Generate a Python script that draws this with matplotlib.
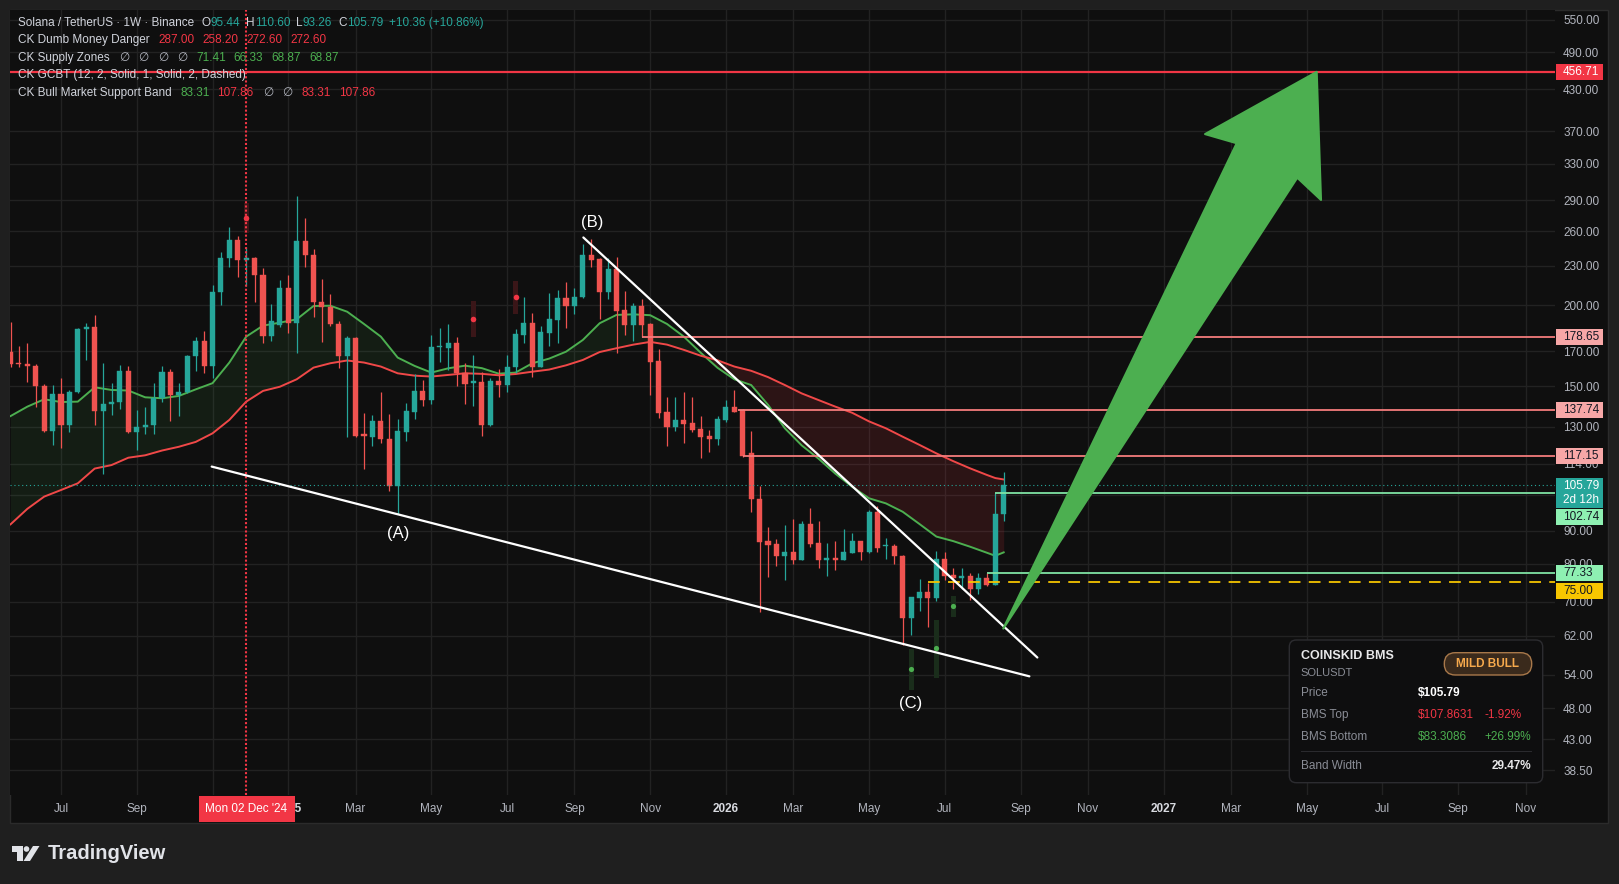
import matplotlib
matplotlib.use("Agg")
import matplotlib.pyplot as plt
import numpy as np
import pandas as pd
from matplotlib.patches import Rectangle, FancyBboxPatch, Polygon, Circle
from matplotlib.transforms import Affine2D
from matplotlib.ticker import NullLocator

plt.rcParams['font.family'] = ['Liberation Sans', 'DejaVu Sans']

# ---------------- data ----------------
# weekly SOL/USDT bars, first bar Mon 20 May 2024
first_bar = "2024-05-20"
opens = [
    169.4, 162.6, 162.1, 161.5, 150.4, 128.0, 146.0, 130.8, 147.1, 183.8,
    185.1, 137.6, 140.9, 141.9, 158.4, 127.7, 129.9, 130.8, 143.8, 157.9,
    145.5, 147.1, 167.1, 176.1, 161.5, 209.6, 236.4, 251.9, 235.0, 236.4,
    222.9, 179.5, 186.5, 212.5, 187.5, 251.0, 239.2, 202.4, 199.0, 187.1,
    167.3, 178.1, 126.2, 125.5, 132.7, 124.5, 105.5, 127.7, 137.1, 147.6,
    142.9, 172.3, 172.1, 174.9, 157.1, 152.0, 152.3, 131.0, 152.9, 150.8,
    160.4, 180.0, 187.6, 160.9, 181.5, 190.0, 204.9, 199.7, 205.6, 238.9,
    235.3, 209.8, 227.4, 196.6, 186.4, 199.5, 187.0, 164.1, 137.0, 130.1,
    133.2, 131.6, 129.0, 125.6, 124.5, 133.1, 139.2, 137.74, 118.3, 100.5,
    86.7, 85.8, 82.3, 83.4, 81.1, 92.1, 86.0, 81.1, 81.7, 81.1,
    83.2, 86.7, 83.4, 96.1, 85.1, 85.3, 82.3, 66.1, 70.9, 72.4,
    70.9, 81.4, 77.0, 76.1, 76.6, 73.2, 76.1, 74.2, 95.44]
highs = [
    188.7, 173.1, 174.9, 162.4, 151.3, 150.7, 154.6, 148.1, 184.5, 187.5,
    193.2, 163.0, 151.8, 161.9, 161.3, 138.0, 139.4, 151.8, 161.3, 159.6,
    151.8, 167.7, 178.7, 182.5, 214.6, 241.4, 263.8, 255.5, 246.0, 236.9,
    228.2, 200.9, 218.6, 222.6, 294.4, 272.4, 244.0, 219.4, 208.1, 189.1,
    179.3, 178.5, 136.4, 135.5, 147.1, 135.9, 133.6, 141.4, 156.8, 153.4,
    179.9, 184.5, 187.1, 178.7, 163.0, 167.7, 158.1, 154.3, 159.5, 167.6,
    183.6, 205.6, 194.3, 185.8, 208.8, 211.1, 216.9, 212.3, 248.1, 252.5,
    236.1, 236.1, 237.0, 210.3, 201.4, 204.4, 187.5, 171.3, 144.5, 144.5,
    146.8, 144.5, 135.0, 128.5, 135.0, 142.9, 148.1, 138.5, 128.0, 105.4,
    91.1, 87.3, 91.8, 93.7, 93.1, 97.5, 93.1, 86.2, 86.7, 90.5,
    89.2, 86.8, 96.8, 98.2, 87.7, 85.8, 82.6, 71.2, 75.7, 74.8,
    83.7, 83.4, 78.8, 78.8, 77.5, 77.5, 77.33, 102.74, 110.60]
lows = [
    160.9, 160.9, 152.5, 139.6, 127.7, 121.9, 120.7, 127.7, 146.4, 164.7,
    130.8, 109.8, 135.5, 138.4, 127.3, 119.7, 126.7, 126.7, 142.1, 132.9,
    135.2, 146.4, 158.6, 157.5, 154.7, 200.1, 229.3, 221.3, 214.1, 202.4,
    175.1, 176.4, 185.4, 181.4, 168.6, 229.3, 192.0, 175.7, 186.0, 160.3,
    125.5, 125.3, 111.8, 121.6, 122.6, 103.7, 95.3, 123.4, 133.6, 140.1,
    140.9, 163.7, 159.0, 150.4, 141.1, 139.9, 126.0, 130.5, 144.7, 147.1,
    157.1, 175.1, 155.3, 160.5, 173.3, 175.1, 184.7, 194.1, 205.0, 229.2,
    190.6, 204.2, 168.6, 180.0, 176.2, 178.9, 145.5, 134.3, 121.6, 128.1,
    122.9, 127.6, 116.5, 119.0, 121.9, 132.4, 136.9, 116.7, 96.2, 67.5,
    76.4, 79.4, 75.5, 80.0, 81.0, 85.0, 78.7, 76.7, 78.3, 81.0,
    83.1, 81.1, 83.2, 83.4, 81.5, 80.0, 60.0, 62.2, 67.7, 64.0,
    70.1, 75.5, 73.2, 73.2, 70.4, 72.0, 74.0, 74.2, 93.26]
closes = [
    162.6, 162.1, 161.5, 150.4, 128.0, 146.0, 130.8, 147.1, 183.8, 185.1,
    137.6, 140.9, 141.9, 158.4, 127.7, 129.9, 130.8, 143.8, 157.9, 145.5,
    147.1, 167.1, 176.1, 161.5, 209.6, 236.4, 251.9, 235.0, 236.4, 222.9,
    179.5, 189.1, 212.5, 187.5, 251.0, 239.2, 202.4, 199.0, 187.1, 167.3,
    178.1, 126.0, 126.0, 132.7, 124.3, 105.5, 128.0, 137.5, 147.6, 142.9,
    172.5, 172.7, 174.9, 157.1, 151.5, 152.3, 131.0, 152.9, 150.8, 160.7,
    180.6, 187.6, 160.9, 181.7, 190.5, 204.9, 199.7, 205.9, 238.9, 234.6,
    209.8, 227.4, 196.2, 186.4, 199.5, 186.4, 163.7, 136.7, 130.1, 133.2,
    131.3, 128.5, 125.4, 124.5, 133.7, 139.2, 137.1, 117.15, 100.5, 86.5,
    85.6, 82.3, 83.4, 81.1, 92.1, 85.8, 81.1, 81.7, 81.1, 83.4,
    86.7, 83.4, 96.1, 84.7, 85.3, 82.1, 66.1, 71.1, 72.4, 70.9,
    81.4, 76.6, 76.1, 76.6, 73.2, 76.1, 74.2, 95.44, 105.79]

# CK Bull Market Support Band (week index from 1 Jul 2024)
band_weeks = [-6, -4, -2, 0, 2, 4, 6, 8, 10, 12, 14, 16, 18, 20, 22, 24, 26, 28,
              30, 32, 34, 36, 38, 40, 42, 44, 46, 48, 50, 52, 54, 56, 58, 60, 62,
              64, 66, 68, 70, 72, 74, 76, 78, 80, 82, 84, 86, 88, 90, 92, 94, 96,
              98, 100, 102, 104, 106, 108, 110, 111, 112]
band_fast = [135.0, 139.6, 143.3, 141.9, 142.1, 149.5, 148.1, 147.8, 144.3, 143.8,
             145.0, 148.4, 151.7, 163.2, 178.9, 186.0, 188.0, 190.2, 199.4, 199.6,
             195.4, 187.1, 178.9, 166.1, 161.3, 157.5, 159.9, 161.4, 160.0, 156.9,
             157.5, 162.8, 165.5, 169.6, 176.8, 187.6, 193.2, 193.6, 193.0, 187.1,
             178.9, 169.0, 160.2, 153.8, 150.7, 140.5, 129.3, 121.7, 116.1, 110.1,
             105.1, 100.9, 99.1, 96.2, 92.1, 88.1, 86.7, 85.0, 83.2, 82.3, 83.31]
band_slow = [92.0, 97.2, 101.5, 103.9, 106.4, 112.1, 113.5, 116.5, 117.5, 119.5,
             121.1, 123.2, 127.0, 133.2, 142.1, 147.6, 149.8, 153.8, 160.3, 162.8,
             164.4, 163.2, 160.9, 157.1, 155.8, 155.3, 156.2, 157.1, 156.8, 156.0,
             156.7, 158.0, 159.2, 161.6, 164.7, 169.4, 171.7, 173.9, 175.6, 173.9,
             170.7, 167.2, 164.5, 160.9, 158.5, 155.0, 150.7, 146.3, 142.9, 139.6,
             136.6, 132.5, 129.3, 125.5, 121.9, 118.3, 115.1, 112.2, 109.6, 108.4, 107.86]

# CK Dumb Money Danger markers
danger_weeks = [22, 49, 54]
danger_top = [287.0, 203.0, 218.1]
danger_bottom = [258.2, 178.6, 193.6]
danger_value = [272.6, 190.3, 205.9]

# CK Supply Zones markers
supply_weeks = [101, 104, 106]
supply_top = [59.1, 65.6, 71.41]
supply_bottom = [51.2, 53.3, 66.33]
supply_value = [55.1, 59.4, 68.87]

# horizontal levels (price, first week)
level_prices = [178.65, 137.74, 117.15, 102.74, 77.33, 75.00]
level_start = [69, 80.4, 81, 111, 110, 103]
target_price = 456.71
last_price = 105.79

# drawings
wedge_low_w, wedge_low_p = [17.9, 115.05], [112.9, 53.7]
wedge_high_w, wedge_high_p = [62.06, 116.0], [254.2, 57.4]
arrow_w = [111.95, 139.68, 135.92, 149.19, 149.70, 146.88]
arrow_p = [63.6, 354.9, 366.6, 457.0, 290.3, 314.1]
wave_labels = ['(A)', '(B)', '(C)']
wave_w = [40.1, 63.1, 100.95]
wave_p = [89.0, 268.2, 48.7]

price_ticks = [550, 490, 430, 370, 330, 290, 260, 230, 200, 170, 150, 130, 114, 102,
               90, 80, 70, 62, 54, 48, 43, 38.5]

# ---------------- style ----------------
BG = '#0f0f0f'
GRID = '#222222'
TEAL = '#26a69a'
RED = '#ef5350'
LRED = '#f23645'
GREEN = '#4caf50'
TXT = '#b2b5be'
NAME = '#d1d4dc'

W, H = 1619, 884
fig = plt.figure(figsize=(W / 100, H / 100), dpi=100, facecolor='#1f1f1f')
pix = Affine2D().scale(1, -1).translate(0, H)  # pixel coords, origin top-left

fig.add_artist(Rectangle((10, 10), 1598, 813, transform=pix, fc=BG, ec='#2b2b2b',
                         lw=1, zorder=-1))

L, R, T, B = 10, 1555, 10, 795
ax = fig.add_axes([L / W, 1 - B / H, (R - L) / W, (B - T) / H])
ax.set_facecolor(BG)
for s in ax.spines.values():
    s.set_visible(False)
ax.set_yscale('log')
ax.set_ylim(35.27, 569.0)
ax.set_xlim(-6.06, 177.5)

# weeks since 1 Jul 2024
origin = pd.Timestamp("2024-07-01")
bar_dates = pd.date_range(first_bar, periods=len(opens), freq="W-MON")
x = np.asarray((bar_dates - origin).days / 7.0)

# axes ticks
ax.yaxis.tick_right()
ax.set_yticks(price_ticks)
ax.set_yticklabels([f"{v:.2f}" for v in price_ticks])
ax.yaxis.set_minor_locator(NullLocator())
ax.tick_params(axis='y', length=0, pad=5.8, labelsize=8.5, labelcolor=TXT)

mondays = pd.date_range(first_bar, "2027-12-31", freq="W-MON")
month_marks = mondays[(mondays.day <= 7) & (mondays.month % 2 == 1)]
mx = np.asarray((month_marks - origin).days / 7.0)
mlabels = [str(d.year) if d.month == 1 else d.strftime('%b') for d in month_marks]
ax.set_xticks(mx)
ax.set_xticklabels(mlabels)
ax.tick_params(axis='x', length=0, pad=5.5, labelsize=8.5, labelcolor=TXT)
for lab, d in zip(ax.get_xticklabels(), month_marks):
    if d.month == 1:
        lab.set_color('#d8dae0')
        lab.set_fontweight('bold')
ax.grid(True, color=GRID, lw=1)
ax.set_axisbelow(True)

# bull market support band
bw = np.array(band_weeks, dtype=float)
bf = np.array(band_fast)
bs = np.array(band_slow)
ax.fill_between(bw, bf, bs, where=bf >= bs, interpolate=True, color=GREEN, alpha=0.09,
                lw=0, zorder=1)
ax.fill_between(bw, bf, bs, where=bf < bs, interpolate=True, color=LRED, alpha=0.13,
                lw=0, zorder=1)
ax.plot(bw, bf, color=GREEN, lw=1.4, zorder=2)
ax.plot(bw, bs, color='#f04848', lw=1.4, zorder=2)

# danger / supply markers
ax.bar(danger_weeks, np.subtract(danger_top, danger_bottom), bottom=danger_bottom,
       width=0.6, color='#3a1618', zorder=2)
ax.scatter(danger_weeks, danger_value, s=16, color=LRED, zorder=3, lw=0)
ax.bar(supply_weeks, np.subtract(supply_top, supply_bottom), bottom=supply_bottom,
       width=0.6, color='#1a2d1b', zorder=2)
ax.scatter(supply_weeks, supply_value, s=14, color=GREEN, zorder=3, lw=0)

# candles
o = np.array(opens)
h = np.array(highs)
lo = np.array(lows)
c = np.array(closes)
cols = np.where(c >= o, TEAL, RED)
ax.vlines(x, lo, h, colors=cols, lw=0.9, zorder=3)
body_low = np.minimum(o, c)
body_h = np.maximum(np.abs(c - o), body_low * 0.006)
ax.bar(x, body_h, bottom=body_low, width=0.6, color=cols, edgecolor=cols, lw=0.3,
       zorder=4)

# levels
ax.axhline(target_price, color=LRED, lw=1.6, zorder=5)
ax.axhline(last_price, color=TEAL, lw=0.8, ls=(0, (1, 2.5)), zorder=5)
lvl_cols = ['#f47c7c', '#f47c7c', '#f47c7c', '#7fe3a4', '#7fe3a4', '#f5c400']
for p, s0, col in zip(level_prices, level_start, lvl_cols):
    ls = (0, (6.5, 4.6)) if col == '#f5c400' else '-'
    ax.hlines(p, s0, 177.5, color=col, lw=1.3, ls=ls, zorder=5)

ax.axvline(22, color=LRED, lw=1.5, ls=(0, (1, 1)), zorder=6)

# wedge and labels
ax.plot(wedge_low_w, wedge_low_p, color='white', lw=1.6, zorder=6,
        solid_capstyle='round')
ax.plot(wedge_high_w, wedge_high_p, color='white', lw=1.6, zorder=6,
        solid_capstyle='round')
for s, w, p in zip(wave_labels, wave_w, wave_p):
    ax.text(w, p, s, color='white', fontsize=12, ha='center', va='center', zorder=7)

ax.add_patch(Polygon(np.column_stack([arrow_w, arrow_p]), closed=True, fc=GREEN,
                     ec=GREEN, lw=1.5, joinstyle='round', zorder=8))


# ---------------- price-axis labels ----------------
def price_y(p):
    return H - ax.transData.transform((0, p))[1]


def axis_box(p, text, bg, fg, nudge=0, hgt=16):
    yc = price_y(p) + nudge
    fig.add_artist(Rectangle((1556, yc - hgt / 2), 47, hgt, transform=pix, fc=bg,
                             ec='none', zorder=5))
    fig.text(1563, yc, text, transform=pix, color=fg, fontsize=8.5, va='center',
             ha='left', zorder=6)


DARK = '#131722'
axis_box(target_price, '456.71', LRED, 'white')
axis_box(178.65, '178.65', '#f7a7a7', DARK)
axis_box(137.74, '137.74', '#f7a7a7', DARK)
axis_box(117.15, '117.15', '#f7a7a7', DARK)
yc = price_y(last_price)
fig.add_artist(Rectangle((1556, yc - 7), 47, 30, transform=pix, fc=TEAL, ec='none',
                         zorder=5))
fig.text(1563, yc + 1, '105.79', transform=pix, color='white', fontsize=8.5,
         va='center', zorder=6)
fig.text(1563, yc + 15, '2d 12h', transform=pix, color='white', fontsize=8.5,
         va='center', zorder=6)
axis_box(102.74, '102.74', '#8ef0b2', DARK, nudge=24)
axis_box(77.33, '77.33', '#8ef0b2', DARK)
axis_box(75.00, '75.00', '#f7c600', DARK, nudge=9)

# crosshair date label
fig.add_artist(Rectangle((198.7, 796), 95.8, 26, transform=pix, fc=LRED, ec='none',
                         zorder=5))
fig.text(246.4, 809, "Mon 02 Dec '24", transform=pix, color='white', fontsize=8.5,
         ha='center', va='center', zorder=6)

# ---------------- legend ----------------
renderer = fig.canvas.get_renderer()


def runs(x0, y0, parts, size=8.5):
    xx = x0
    for s, col, gap in parts:
        t = fig.text(xx, y0, s, transform=pix, color=col, fontsize=size, va='center',
                     ha='left', zorder=7)
        xx += t.get_window_extent(renderer).width + gap


runs(18.5, 22.7, [("Solana / TetherUS · 1W · Binance", NAME, 7), ("O", NAME, 0),
                  ("95.44", TEAL, 6), ("H", NAME, 0), ("110.60", TEAL, 6),
                  ("L", NAME, 0), ("93.26", TEAL, 6), ("C", NAME, 0),
                  ("105.79", TEAL, 6), ("+10.36 (+10.86%)", TEAL, 0)])
runs(18.5, 40.3, [("CK Dumb Money Danger", NAME, 8), ("287.00", LRED, 8),
                  ("258.20", LRED, 8), ("272.60", LRED, 8), ("272.60", LRED, 0)])
runs(18.5, 57.8, [("CK Supply Zones", NAME, 9), ("∅", TXT, 9), ("∅", TXT, 9),
                  ("∅", TXT, 9), ("∅", TXT, 9), ("71.41", GREEN, 8),
                  ("66.33", GREEN, 8), ("68.87", GREEN, 8), ("68.87", GREEN, 0)])
runs(18.5, 75.4, [("CK GCBT (12, 2, Solid, 1, Solid, 2, Dashed)", NAME, 0)])
runs(18.5, 92.9, [("CK Bull Market Support Band", NAME, 8), ("83.31", GREEN, 8),
                  ("107.86", LRED, 9), ("∅", TXT, 9), ("∅", TXT, 9),
                  ("83.31", LRED, 8), ("107.86", LRED, 0)])

# ---------------- info box ----------------
fig.add_artist(FancyBboxPatch((1289.3, 640), 253.4, 142.7,
                              boxstyle='round,pad=0,rounding_size=7', transform=pix,
                              fc='#0e0e0f', ec='#2c2c30', lw=1, zorder=5))
fig.add_artist(FancyBboxPatch((1444.3, 652.7), 87.4, 22.3,
                              boxstyle='round,pad=0,rounding_size=11', transform=pix,
                              fc='#3a2a1c', ec='#a8784a', lw=1, zorder=6))
fig.text(1488, 664, 'MILD BULL', transform=pix, color='#f6a94c', fontsize=8.5,
         fontweight='bold', ha='center', va='center', zorder=7)
fig.text(1300.7, 656.3, 'COINSKID BMS', transform=pix, color='#e8e8ea', fontsize=9,
         fontweight='bold', va='center', zorder=7)
fig.text(1300.7, 673.3, 'SOLUSDT', transform=pix, color='#8a8d96', fontsize=8,
         va='center', zorder=7)
rows = [('Price', '$105.79', '#ffffff', None, 693.3),
        ('BMS Top', '$107.8631', LRED, '-1.92%', 715.0),
        ('BMS Bottom', '$83.3086', GREEN, '+26.99%', 736.7)]
for name, val, col, pct, yy in rows:
    fig.text(1300.7, yy, name, transform=pix, color='#8a8d96', fontsize=8.5,
             va='center', zorder=7)
    fig.text(1417.7, yy, val, transform=pix, color=col, fontsize=8.5, va='center',
             fontweight='bold' if pct is None else 'normal', zorder=7)
    if pct:
        fig.text(1484.3, yy, pct, transform=pix, color=col, fontsize=8.5,
                 va='center', zorder=7)
fig.add_artist(Rectangle((1300.7, 751.2), 231, 1, transform=pix, fc='#2a2a2e',
                         ec='none', zorder=6))
fig.text(1300.7, 765.7, 'Band Width', transform=pix, color='#8a8d96', fontsize=8.5,
         va='center', zorder=7)
fig.text(1531, 765.7, '29.47%', transform=pix, color='#e8e8ea', fontsize=8.5,
         fontweight='bold', ha='right', va='center', zorder=7)

# ---------------- TradingView logo ----------------
LOGO = '#e1e3e8'
fig.add_artist(Polygon([(11.5, 846), (22.5, 846), (22.5, 861), (17, 861), (17, 851.5),
                        (11.5, 851.5)], closed=True, transform=pix, fc=LOGO, ec='none'))
fig.add_artist(Circle((26.5, 849), 2.8, transform=pix, fc=LOGO, ec='none'))
fig.add_artist(Polygon([(23.5, 861), (30, 861), (39.5, 846), (33, 846)], closed=True,
                       transform=pix, fc=LOGO, ec='none'))
fig.text(48, 853.5, 'TradingView', transform=pix, color=LOGO, fontsize=14.5,
         fontweight='bold', va='center')

fig.savefig('out.png', dpi=100, facecolor=fig.get_facecolor())
